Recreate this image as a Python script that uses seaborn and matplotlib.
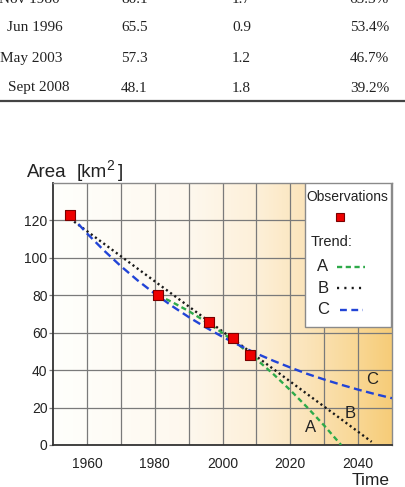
import numpy as np
import pandas as pd
import matplotlib
matplotlib.use("Agg")
import matplotlib.pyplot as plt
from matplotlib.colors import LinearSegmentedColormap
from matplotlib.patches import Rectangle
from matplotlib.lines import Line2D
import seaborn as sns

# table rows at the top (first one is cut by the crop)
tab_dates = ["Nov 1980", "Jun 1996", "May 2003", "Sept 2008"]
tab_area = ["80.1", "65.5", "57.3", "48.1"]
tab_rate = ["1.7", "0.9", "1.2", "1.8"]
tab_pct = ["65.3%", "53.4%", "46.7%", "39.2%"]

# observed glacier area
obs_year = [1955, 1981, 1996, 2003, 2008]
obs_area = [122.7, 80.1, 65.5, 57.3, 48.1]

# trend A (green)
a_year = [1981, 1985, 1990, 1995, 2000, 2005, 2010, 2015, 2020, 2025, 2030, 2035]
a_area = [80.0, 76.5, 71.6, 66.0, 59.9, 53.2, 45.8, 37.9, 29.3, 20.1, 10.4, 0.0]

# trend B (black dots)
b_year = [1955, 1965, 1975, 1985, 1995, 2005, 2015, 2025, 2035, 2044]
b_area = [121.0, 107.6, 94.2, 80.8, 67.4, 54.0, 40.6, 27.2, 13.8, 1.7]

# trend C (blue)
c_year = [1955, 1960, 1965, 1970, 1975, 1980, 1985, 1990, 1995, 2000,
          2005, 2010, 2015, 2020, 2025, 2030, 2035, 2040, 2045, 2050]
c_area = [123.0, 113.1, 104.0, 95.6, 87.9, 80.9, 74.4, 68.4, 62.9, 57.8,
          53.2, 48.9, 45.0, 41.4, 38.0, 35.0, 32.2, 29.6, 27.2, 25.0]

sns.set_theme(style="white")
plt.rcParams["font.family"] = ["Liberation Sans", "DejaVu Sans"]

W, H = 405, 487
fig = plt.figure(figsize=(W / 100, H / 100), dpi=100)
fig.patch.set_facecolor("white")

def fx(px):
    return px / W

def fy(py):
    return 1 - py / H

# --- table fragment ---
serif = ["Liberation Serif", "DejaVu Serif"]
row_base = [3, 31, 62, 91.5]
date_right = [60, 63, 62, 70]
for i in range(len(tab_dates)):
    yb = fy(row_base[i])
    fig.text(fx(date_right[i]), yb, tab_dates[i], ha="right", va="baseline",
             family=serif, fontsize=11, color="#222222")
    fig.text(fx(121), yb, tab_area[i], ha="left", va="baseline",
             family=serif, fontsize=11, color="#222222")
    fig.text(fx(232), yb, tab_rate[i], ha="left", va="baseline",
             family=serif, fontsize=11, color="#222222")
    fig.text(fx(389), yb, tab_pct[i], ha="right", va="baseline",
             family=serif, fontsize=11, color="#222222")
fig.add_artist(Line2D([0, 1], [fy(100.5), fy(100.5)], color="#444444", lw=1.6))

# --- chart ---
ax = fig.add_axes([fx(53), 1 - 445 / H, 339 / W, 262 / H])

cmap = LinearSegmentedColormap.from_list(
    "bg", [(0.0, "#fffffc"), (0.4, "#fef8ee"), (0.6, "#fdf0d9"),
           (0.75, "#fbe4ba"), (0.9, "#f9d794"), (1.0, "#f6cc78")])
grad = np.linspace(0, 1, 256).reshape(1, -1)
ax.imshow(grad, extent=[1950, 2050, 0, 140], aspect="auto", cmap=cmap,
          zorder=0, interpolation="bilinear")

green_ls = (0, (2.2, 1.5))
black_ls = (0, (0.9, 1.3))
blue_ls = (0, (3.4, 1.9))

sns.lineplot(x=b_year, y=b_area, ax=ax, color="#1a1a1a", lw=1.7,
             linestyle=black_ls, zorder=3)
sns.lineplot(x=a_year, y=a_area, ax=ax, color="#2eaa4a", lw=1.7,
             linestyle=green_ls, zorder=3)
sns.lineplot(x=c_year, y=c_area, ax=ax, color="#2244d6", lw=1.7,
             linestyle=blue_ls, zorder=4)
sns.scatterplot(x=obs_year, y=obs_area, ax=ax, marker="s", s=42,
                color="#ee0000", edgecolor="#7a0000", linewidth=0.8, zorder=5)

ax.set_xlim(1950, 2050)
ax.set_ylim(0, 140)
ax.set_xticks([1960, 1980, 2000, 2020, 2040])
ax.set_xticks([1970, 1990, 2010, 2030], minor=True)
ax.set_yticks([0, 20, 40, 60, 80, 100, 120])
ax.grid(True, which="both", color="#7a7a7a", lw=0.9, zorder=1)
for ln in ax.get_xgridlines() + ax.get_ygridlines():
    ln.set_zorder(1)
ax.tick_params(axis="x", which="both", length=0, pad=9, labelsize=10, colors="#222222")
ax.tick_params(axis="y", length=3, width=0.9, color="#7a7a7a", pad=1,
               labelsize=10, labelcolor="#222222", left=True)
ax.set_xlabel("")
ax.set_ylabel("")
for s in ["left", "bottom"]:
    ax.spines[s].set_color("#333333")
    ax.spines[s].set_linewidth(1.3)
for s in ["top", "right"]:
    ax.spines[s].set_color("#8a8a8a")
    ax.spines[s].set_linewidth(1.0)

ax.text(2026, 9.5, "A", fontsize=12, ha="center", va="center", color="#222222")
ax.text(2037.6, 16.6, "B", fontsize=12, ha="center", va="center", color="#222222")
ax.text(2044, 35, "C", fontsize=12, ha="center", va="center", color="#222222")

# legend box drawn by hand
ax.add_patch(Rectangle((0.743, 0.4485), 0.254, 0.5515, transform=ax.transAxes,
                       facecolor="white", edgecolor="#8a8a8a", lw=1.0, zorder=6))
ax.text(0.8687, 0.9454, "Observations", transform=ax.transAxes, fontsize=10,
        ha="center", va="center", zorder=7, color="#222222")
ax.plot([0.8466], [0.8714], marker="s", ms=6, color="#ee0000", mec="#7a0000",
        mew=0.8, transform=ax.transAxes, zorder=7)
ax.text(0.761, 0.776, "Trend:", transform=ax.transAxes, fontsize=10.5,
        ha="left", va="center", zorder=7, color="#222222")
leg_rows = [("A", 0.6805, "#2eaa4a", green_ls, 0.8378, 0.9204),
            ("B", 0.598, "#1a1a1a", (0, (0.9, 2.2)), 0.8378, 0.9115),
            ("C", 0.5153, "#2244d6", (0, (2.9, 1.9)), 0.8466, 0.9145)]
for lab, yy, col, ls, x0, x1 in leg_rows:
    ax.text(0.7956, yy, lab, transform=ax.transAxes, fontsize=12,
            ha="center", va="center", zorder=7, color="#222222")
    ax.plot([x0, x1], [yy, yy], color=col, lw=1.7, linestyle=ls,
            transform=ax.transAxes, zorder=7)

# axis titles
fig.text(fx(27), fy(177), "Area", fontsize=13.5, ha="left", va="baseline", color="#222222")
fig.text(fx(77), fy(177), "[km", fontsize=13.5, ha="left", va="baseline", color="#222222")
fig.text(fx(106), fy(170.5), "2", fontsize=10, ha="left", va="baseline", color="#222222")
fig.text(fx(118), fy(177), "]", fontsize=13.5, ha="left", va="baseline", color="#222222")
fig.text(fx(390), fy(485), "Time", fontsize=12.5, ha="right", va="baseline", color="#222222")

fig.savefig("out.png", dpi=100)
